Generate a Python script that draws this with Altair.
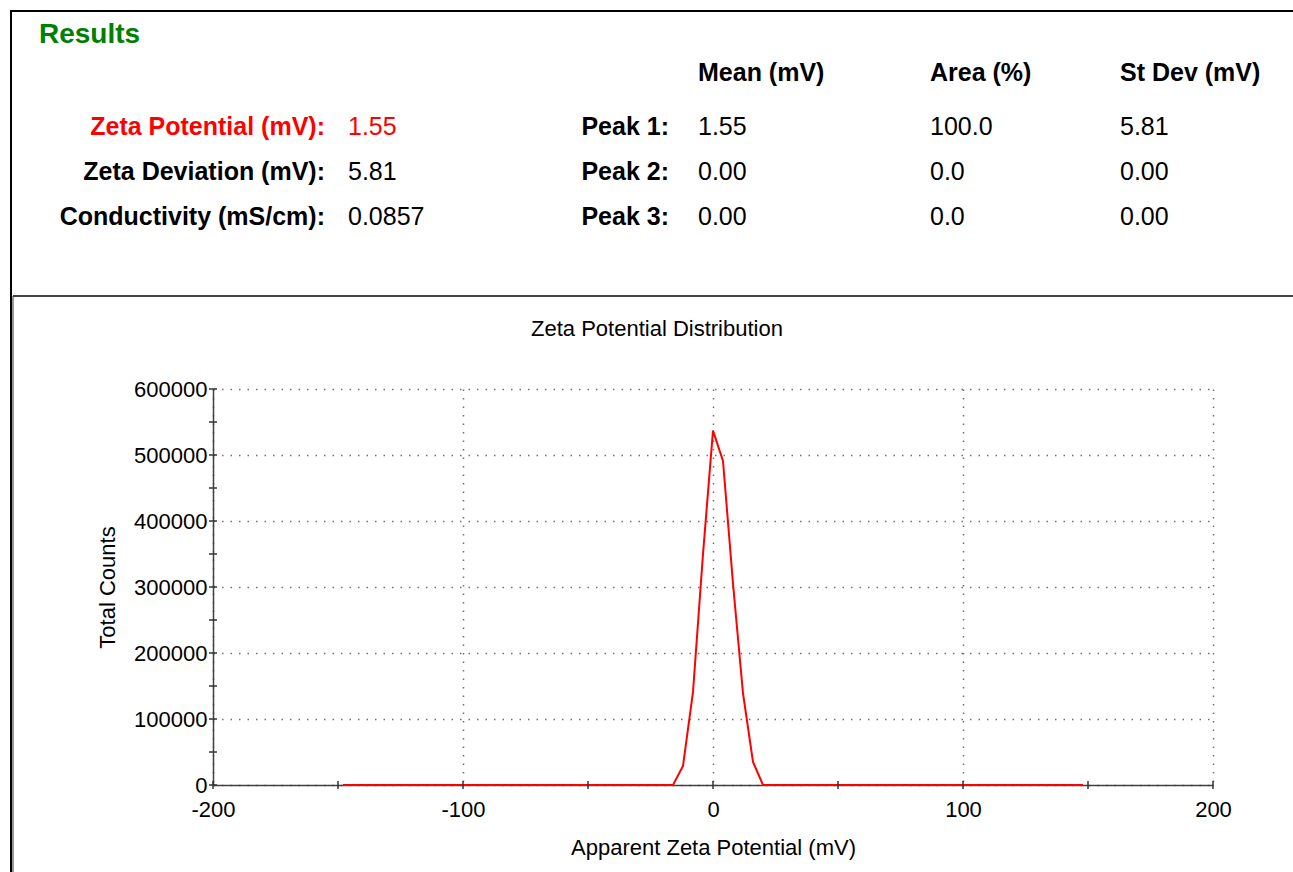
import altair as alt
import pandas as pd

# ---------------- data ----------------
zeta_mv = [-148, -16, -12, -8, -4, 0, 4, 8, 12, 16, 20, 148]
total_counts = [0, 0, 29000, 141000, 350000, 537000, 491000, 305000, 139000, 35000, 0, 0]

x_major = [-200, -100, 0, 100, 200]
x_minor = [-150, -50, 50, 150]
y_major = [0, 100000, 200000, 300000, 400000, 500000, 600000]
y_minor = [50000, 150000, 250000, 350000, 450000, 550000]

summary_labels = ["Zeta Potential (mV):", "Zeta Deviation (mV):", "Conductivity (mS/cm):"]
summary_values = ["1.55", "5.81", "0.0857"]
table_headers = ["Mean (mV)", "Area (%)", "St Dev (mV)"]
peak_names = ["Peak 1:", "Peak 2:", "Peak 3:"]
peak_mean = [1.55, 0.00, 0.00]
peak_area = [100.0, 0.0, 0.0]
peak_sd = [5.81, 0.00, 0.00]

FONT = "Liberation Sans"
W, H = 1000, 396
PAD = {"left": 213, "top": 389, "right": 80, "bottom": 87}

xscale = alt.Scale(domain=[-200, 200], nice=False, zero=False)
yscale = alt.Scale(domain=[0, 600000], nice=False)

one = alt.InlineData(values=[{"k": 1}])

# ---------------- axes ----------------
grid_kw = dict(grid=True, gridDash=[1.5, 7], gridColor="#707070", gridWidth=1.5,
               domainColor="#404040", domainWidth=1.5, ticks=False,
               labelFont=FONT, labelFontSize=22, labelColor="#000000",
               titleFont=FONT, titleFontSize=22, titleFontWeight="normal", titleColor="#000000")

xaxis = alt.Axis(values=x_major, labelExpr="toString(datum.value)", labelPadding=14,
                 labelFlush=False, labelOverlap=False,
                 title="Apparent Zeta Potential (mV)", titleY=69, titleBaseline="alphabetic",
                 **grid_kw)
yaxis = alt.Axis(values=y_major, format="d", labelPadding=6, labelOverlap=False,
                 title="Total Counts", titleX=-99, titleY=H / 2, titleAngle=270,
                 titleBaseline="alphabetic", titleAlign="center", **grid_kw)

# ---------------- distribution line ----------------
line = alt.Chart(pd.DataFrame({"mv": zeta_mv, "counts": total_counts})).mark_line(
    color="#ff0000", strokeWidth=2
).encode(
    x=alt.X("mv:Q", scale=xscale, axis=xaxis),
    y=alt.Y("counts:Q", scale=yscale, axis=yaxis),
)

layers = []

# ---------------- frame lines ----------------
def vrule(x, y1, y2, color, w):
    return alt.Chart(one).mark_rule(color=color, strokeWidth=w).encode(
        x=alt.value(x), y=alt.value(y1), y2=alt.value(y2))

def hrule(y, x1, x2, color, w):
    return alt.Chart(one).mark_rule(color=color, strokeWidth=w).encode(
        y=alt.value(y), x=alt.value(x1), x2=alt.value(x2))

layers += [
    vrule(-202, -378, 483, "#000000", 2),
    hrule(-378, -203, 1080, "#000000", 2),
    vrule(-200, -93, 483, "#777777", 1.5),
    hrule(-93, -200, 1080, "#444444", 2),
]

# ---------------- texts ----------------
def text(t, x, y, align="left", bold=False, color="#000000", size=25):
    return alt.Chart(pd.DataFrame({"t": [t]})).mark_text(
        align=align, baseline="alphabetic", font=FONT, fontSize=size,
        fontWeight="bold" if bold else "normal", color=color,
    ).encode(text="t:N", x=alt.value(x), y=alt.value(y))

layers.append(text("Results", -174, -346, bold=True, color="#008000", size=28))

row_y = [-254, -209, -164]
for i, (lab, val) in enumerate(zip(summary_labels, summary_values)):
    c = "#ff0000" if i == 0 else "#000000"
    layers.append(text(lab, 112, row_y[i], align="right", bold=True, color=c))
    layers.append(text(val, 135, row_y[i], color=c))

col_x = [485, 717, 907]
for hx, h in zip(col_x, table_headers):
    layers.append(text(h, hx, -308, bold=True))
for i, name in enumerate(peak_names):
    layers.append(text(name, 456, row_y[i], align="right", bold=True))
    layers.append(text(f"{peak_mean[i]:.2f}", col_x[0], row_y[i]))
    layers.append(text(f"{peak_area[i]:.1f}", col_x[1], row_y[i]))
    layers.append(text(f"{peak_sd[i]:.2f}", col_x[2], row_y[i]))

layers.append(text("Zeta Potential Distribution", 444, -53, align="center", size=22))

# ---------------- axis ticks (crossing the axis line) ----------------
tick_color = "#333333"
for vals in (y_major, y_minor):
    layers.append(
        alt.Chart(pd.DataFrame({"counts": vals})).mark_rule(color=tick_color, strokeWidth=1.5).encode(
            y=alt.Y("counts:Q", scale=yscale), x=alt.value(-4), x2=alt.value(4))
    )
for vals in (x_major, x_minor):
    layers.append(
        alt.Chart(pd.DataFrame({"mv": vals})).mark_rule(color=tick_color, strokeWidth=1.5).encode(
            x=alt.X("mv:Q", scale=xscale), y=alt.value(H - 4), y2=alt.value(H + 4))
    )

chart = alt.layer(line, *layers).properties(
    width=W, height=H,
    autosize=alt.AutoSizeParams(type="none"),
    padding=PAD,
    background="white",
).configure_view(strokeWidth=0)

chart.save("out.html", embed_options={"renderer": "svg", "actions": False})
